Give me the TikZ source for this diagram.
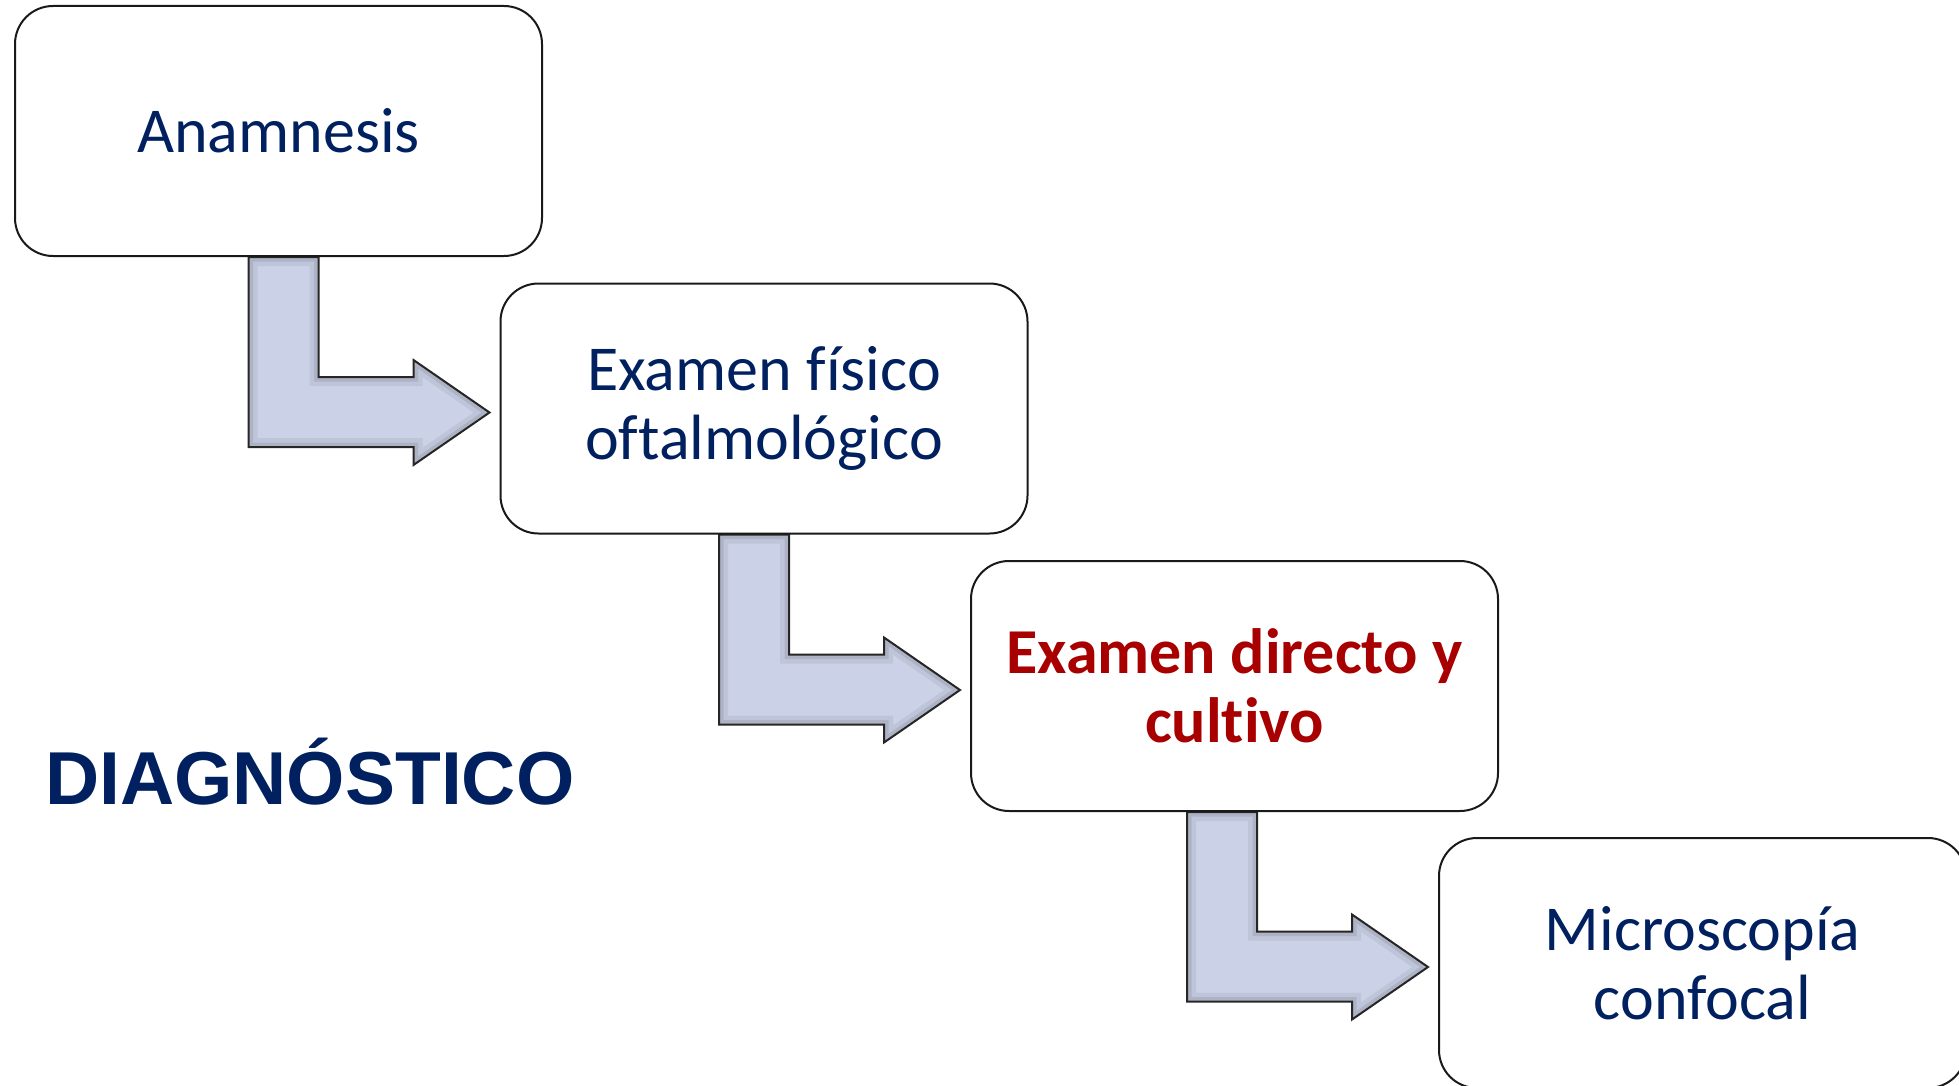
\documentclass[tikz,border=0pt]{standalone}
\usepackage{fontspec}
\setmainfont{Carlito}[RawFeature={-liga;-clig}]
\newfontfamily\arialfont{Liberation Sans}
\usetikzlibrary{calc}
\definecolor{txtblue}{HTML}{002060}
\definecolor{txtred}{HTML}{A80000}
\definecolor{arrowfill}{HTML}{CBD2E7}
% path of a bent block arrow from the bottom of box #1 to the left side of box #2
\newcommand\arrowpath[2]{let \p1=(#1.south), \p2=(#2.west) in
  (\x2-251pt,\y1) -- (\x2-181pt,\y1) -- (\x2-181pt,\y2+31.5pt) -- (\x2-86pt,\y2+31.5pt)
  -- (\x2-86pt,\y2+48.5pt) -- (\x2-10pt,\y2-4pt) -- (\x2-86pt,\y2-56.5pt)
  -- (\x2-86pt,\y2-38.5pt) -- (\x2-251pt,\y2-38.5pt) -- cycle}
\newcommand\blockarrow[2]{%
  \fill[arrowfill] \arrowpath{#1}{#2};
  \begin{scope}
    \clip \arrowpath{#1}{#2};
    \draw[line width=18pt, black, opacity=0.06] \arrowpath{#1}{#2};
    \draw[line width=9pt, black, opacity=0.09] \arrowpath{#1}{#2};
  \end{scope}
  \draw[arrowline] \arrowpath{#1}{#2};}
\begin{document}
\begin{tikzpicture}[x=1pt,y=-1pt,
  box/.style={draw=black!90, line width=2pt, rounded corners=38pt, fill=white,
    minimum width=527pt, minimum height=250pt, inner sep=0pt, align=center,
    text=txtblue, font=\fontsize{64}{69}\selectfont},
  keybox/.style={box, text=txtred, font=\fontsize{64}{69}\selectfont\bfseries},
  slot/.style={box, draw=none, fill=none},
  arrowline/.style={draw=black!85, line width=2pt, line join=miter},
  title/.style={anchor=base west, inner sep=0pt, text=txtblue,
    font=\arialfont\bfseries\fontsize{75}{80}\selectfont}]
\useasboundingbox (0,0) rectangle (1959,1086);

% box positions (named first so the arrows can refer to them)
\path (278.5,131) coordinate (c1) (764,408.5) coordinate (c2)
      (1234.5,686) coordinate (c3) (1702.5,963) coordinate (c4);
\node[slot] (b1) at (c1) {};
\node[slot] (b2) at (c2) {};
\node[slot] (b3) at (c3) {};
\node[slot] (b4) at (c4) {};

\blockarrow{b1}{b2}
\blockarrow{b2}{b3}
\blockarrow{b3}{b4}

\node[box] (n1) at (c1) {Anamnesis};
\node[box] (n2) at (c2) {Examen físico\\oftalmológico};
\node[keybox] (n3) at (c3) {Examen directo y\\cultivo};
\node[box] (n4) at (c4) {Microscopía\\confocal};

\node[title] (t) at (45,804) {DIAGNÓSTICO};
\end{tikzpicture}
\end{document}
